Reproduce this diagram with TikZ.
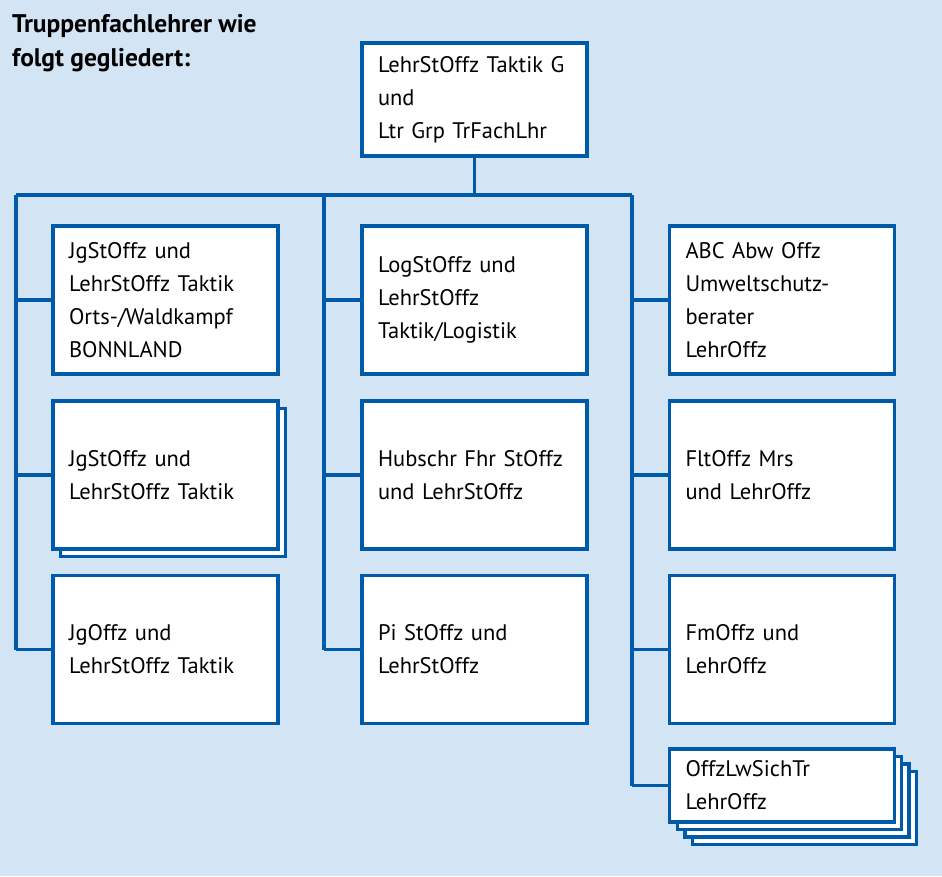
\documentclass[tikz,border=0pt]{standalone}
\usepackage{fontspec}
\setmainfont{PT Sans}
\usetikzlibrary{positioning, calc}
\definecolor{bwBlue}{RGB}{0,90,170}
\definecolor{bwBack}{RGB}{211,228,245}
\tikzset{
    orgBox/.style={rectangle, draw=bwBlue, fill=white, line width=3.2pt, minimum width=225pt, minimum height=148pt, text width=193pt, inner xsep=16pt, inner ysep=4pt, align=left, font=\fontsize{22.5}{33}\selectfont},
    stackCopy/.style={draw=bwBlue, fill=white, line width=3.2pt},
    orgLine/.style={draw=bwBlue, line width=3.4pt},
    titleText/.style={inner sep=0pt, align=left, font=\bfseries\fontsize{25.5}{34}\selectfont}
}

\begin{document}
\begin{tikzpicture}[x=1pt, y=-1pt]

        % Background
        \fill[bwBack] (0,0) rectangle (942,876);
        \useasboundingbox (0,0) rectangle (942,876);

        % Title
        \node[titleText, anchor=north west] (title) at (12,14) {Truppenfachlehrer wie\\folgt gegliedert:};

        % 1. Bus lines
        \coordinate (busL) at (16,195);
        \coordinate (busM) at (324,195);
        \coordinate (busT) at (474.5,195);
        \coordinate (busR) at (632,195);
        \draw[orgLine] (busL) -- (busR);
        \draw[orgLine] (busL) -- (16,650);
        \draw[orgLine] (busM) -- (324,650);
        \draw[orgLine] (busR) -- (632,786);

        % 2. Stack copies behind the boxes
        \foreach \s in {7.5} { \draw[stackCopy] (53+\s,401+\s) rectangle (278+\s,549+\s); }
        \foreach \s in {22.5,15,7.5} { \draw[stackCopy] (670+\s,749+\s) rectangle (894+\s,822+\s); }

        % 3. Boxes
        \node[orgBox, minimum height=113pt] (top) at (474.5,99.5) {LehrStOffz Taktik G\\und\\Ltr Grp TrFachLhr};

        \node[orgBox] (L1) at (165.5,300) {JgStOffz und\\LehrStOffz Taktik\\Orts-/Waldkampf\\BONNLAND};
        \node[orgBox] (L2) at (165.5,475) {JgStOffz und\\LehrStOffz Taktik};
        \node[orgBox] (L3) at (165.5,649.5) {JgOffz und\\LehrStOffz Taktik};

        \node[orgBox] (M1) at (474.5,300) {LogStOffz und\\LehrStOffz\\Taktik/Logistik};
        \node[orgBox] (M2) at (474.5,475) {Hubschr Fhr StOffz\\und LehrStOffz};
        \node[orgBox] (M3) at (474.5,649.5) {Pi StOffz und\\LehrStOffz};

        \node[orgBox] (R1) at (782,300) {ABC Abw Offz\\Umweltschutz-\\berater\\LehrOffz};
        \node[orgBox] (R2) at (782,475) {FltOffz Mrs\\und LehrOffz};
        \node[orgBox] (R3) at (782,649.5) {FmOffz und\\LehrOffz};
        \node[orgBox, minimum height=73pt] (R4) at (782,785.5) {OffzLwSichTr\\LehrOffz};

        % 4. Connectors
        \draw[orgLine] (top.south) -- (busT);
        \foreach \n in {L1,L2,L3} { \draw[orgLine] (\n.west) -- (\n.west -| busL); }
        \foreach \n in {M1,M2,M3} { \draw[orgLine] (\n.west) -- (\n.west -| busM); }
        \foreach \n in {R1,R2,R3,R4} { \draw[orgLine] (\n.west) -- (\n.west -| busR); }

\end{tikzpicture}
\end{document}
